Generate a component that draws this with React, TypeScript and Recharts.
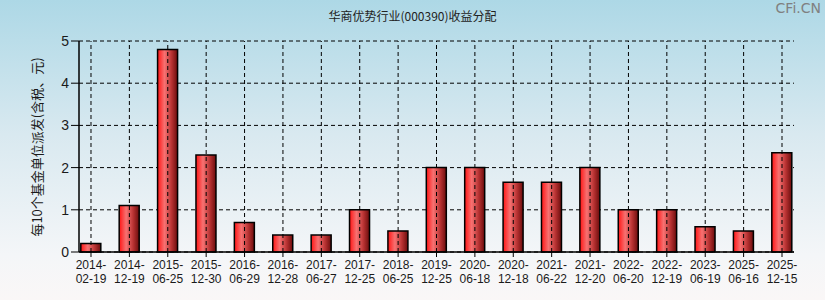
import React from 'react';
import { BarChart, Bar, XAxis, YAxis, CartesianGrid, Label, ReferenceLine } from 'recharts';

const dates = [
  '2014-02-19', '2014-12-19', '2015-06-25', '2015-12-30', '2016-06-29', '2016-12-28',
  '2017-06-27', '2017-12-25', '2018-06-25', '2019-12-25', '2020-06-18', '2020-12-18',
  '2021-06-22', '2021-12-20', '2022-06-20', '2022-12-19', '2023-06-19', '2025-06-16', '2025-12-15',
];
const dividends = [0.2, 1.1, 4.8, 2.3, 0.7, 0.4, 0.4, 1.0, 0.5, 2.0, 2.0, 1.65, 1.65, 2.0, 1.0, 1.0, 0.6, 0.5, 2.35];
const yTicks = [0, 1, 2, 3, 4, 5];

const title = '华商优势行业(000390)收益分配';
const yLabel = '每10个基金单位派发(含税、元)';
const brand = 'CFi.CN';

const data = dates.map((d, i) => ({ idx: i, date: d, value: dividends[i] }));
const xTicks = dates.map((_, i) => i);
const X_DOMAIN: [number, number] = [-0.3125, 18.3125];

const FONT = '"Liberation Sans", Arial, sans-serif';

const XTick = (props: any) => {
  const { x, y, payload } = props;
  const label = dates[payload.value] || '';
  const [yr, ...rest] = label.split('-');
  return (
    <g transform={`translate(${x},${y})`}>
      <text x={0} y={0} textAnchor="middle" fontSize={12} fontFamily={FONT} fill="#1a1a1a">
        <tspan x={0} dy={10}>{yr + '-'}</tspan>
        <tspan x={0} dy={14}>{rest.join('-')}</tspan>
      </text>
    </g>
  );
};

export default function App() {
  return (
    <div
      style={{
        position: 'absolute',
        left: 0,
        top: 0,
        width: 825,
        height: 300,
        background: 'linear-gradient(to bottom, #add8e6 0%, #d9e9f0 45%, #f4f6f8 85%, #faf7f7 100%)',
        overflow: 'hidden',
      }}
    >
      <div
        style={{
          position: 'absolute',
          left: 0,
          width: 825,
          top: 7,
          textAlign: 'center',
          fontFamily: '"Noto Sans CJK SC", sans-serif',
          fontSize: 12,
          color: '#222',
        }}
      >
        {title}
      </div>
      <div
        style={{
          position: 'absolute',
          right: 4,
          top: 0,
          fontFamily: '"DejaVu Sans", sans-serif',
          fontSize: 14,
          color: '#808080',
        }}
      >
        {brand}
      </div>
      <div style={{ position: 'absolute', left: 0, top: 0 }}>
        <BarChart
          width={825}
          height={300}
          data={data}
          margin={{ top: 41, right: 31, bottom: 0, left: 0 }}
        >
          <defs>
            <linearGradient id="barGrad" x1="0" y1="0" x2="1" y2="0">
              <stop offset="0%" stopColor="#ff1414" />
              <stop offset="35%" stopColor="#f77272" />
              <stop offset="70%" stopColor="#b83232" />
              <stop offset="100%" stopColor="#6a0c0c" />
            </linearGradient>
          </defs>
          <CartesianGrid
            stroke="#000"
            strokeDasharray="4 3"
            strokeWidth={1}
            vertical={false}
          />
          {xTicks.map((t) => (
            <ReferenceLine
              key={t}
              x={t}
              stroke="#000"
              strokeDasharray="4 3"
              strokeWidth={1}
              ifOverflow="extendDomain"
            />
          ))}
          <XAxis
            dataKey="idx"
            type="number"
            domain={X_DOMAIN}
            ticks={xTicks}
            interval={0}
            tick={<XTick />}
            tickSize={5}
            axisLine={{ stroke: '#000', strokeWidth: 1.5 }}
            tickLine={{ stroke: '#000' }}
            allowDataOverflow
            height={48}
          />
          <YAxis
            type="number"
            domain={[0, 5]}
            ticks={yTicks}
            width={79}
            tickSize={8}
            tick={{ fontSize: 14, fontFamily: FONT, fill: '#1a1a1a' }}
            axisLine={{ stroke: '#000', strokeWidth: 1.5 }}
            tickLine={{ stroke: '#000' }}
          >
            <Label
              content={() => (
                <text
                  x={38}
                  y={147}
                  transform="rotate(-90 38 147)"
                  textAnchor="middle"
                  dominantBaseline="middle"
                  fontSize={13}
                  fontFamily='"Noto Sans CJK SC", sans-serif'
                  fill="#1a1a1a"
                >
                  {yLabel}
                </text>
              )}
            />
          </YAxis>
          <Bar
            dataKey="value"
            barSize={20}
            fill="url(#barGrad)"
            stroke="#000"
            strokeWidth={1.5}
            isAnimationActive={false}
          />
        </BarChart>
      </div>
    </div>
  );
}
